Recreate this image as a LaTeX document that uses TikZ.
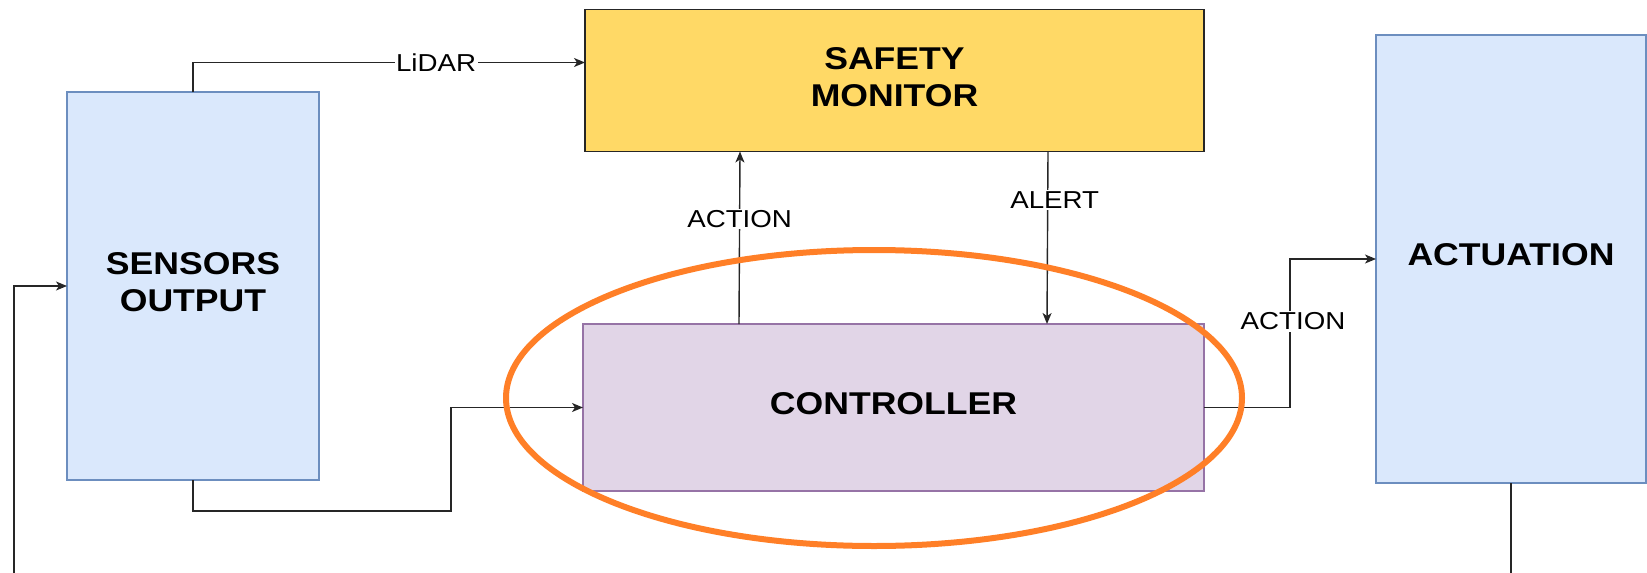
\documentclass[tikz,border=0pt]{standalone}
\usepackage{fontspec}
\setmainfont{Liberation Sans}[FakeStretch=1.13]
\usetikzlibrary{arrows.meta,calc}
\definecolor{blueF}{HTML}{DAE8FC}
\definecolor{blueD}{HTML}{6C8EBF}
\definecolor{yelF}{HTML}{FFD966}
\definecolor{purF}{HTML}{E1D5E7}
\definecolor{purD}{HTML}{9673A6}
\definecolor{orng}{HTML}{FF7F27}
\begin{document}
\begin{tikzpicture}[x=1pt,y=-1pt,
  box/.style={rectangle,inner sep=0pt,outer sep=0pt,line width=1.4pt},
  btext/.style={inner sep=0pt,align=center,font=\fontsize{31.5}{37}\selectfont\bfseries},
  arr/.style={line width=1.4pt,draw=black!85,-{Stealth[length=11pt,width=9pt,inset=3pt]}},
  ln/.style={line width=1.4pt,draw=black!85},
  lab/.style={fill=white,inner sep=1.5pt,font=\fontsize{24.5}{28}\selectfont},
  hilite/.style={draw=orng,line width=6pt}]
\useasboundingbox (0,0) rectangle (1647,573);
\node[box,fill=blueF,draw=blueD,minimum width=252pt,minimum height=388pt] (sens) at (193,286) {};
\node[box,fill=yelF,draw=black!85,minimum width=619pt,minimum height=142pt] (safe) at (894.5,80.5) {};
\node[box,fill=purF,draw=purD,minimum width=621pt,minimum height=167pt] (ctrl) at (893.5,407.5) {};
\node[box,fill=blueF,draw=blueD,minimum width=270pt,minimum height=448pt] (act) at (1511,259) {};
\node[btext] (sensT) at ([yshift=3.5pt]sens.center) {SENSORS\\OUTPUT};
\node[btext] (safeT) at ([yshift=3.5pt]safe.center) {SAFETY\\MONITOR};
\node[btext] (ctrlT) at ([yshift=3.5pt]ctrl.center) {CONTROLLER};
\node[btext] (actT) at ([yshift=4pt]act.center) {ACTUATION};
\coordinate (b1) at (451,511);
\coordinate (b2) at (1290,259);
\coordinate (fb) at (14,573);
\coordinate (ab) at (1511,573);
% connectors
\draw[arr] (sens.north) |- node[lab,pos=0.81]{LiDAR} ([yshift=18pt]safe.west);
\draw[arr] (sens.south) |- (b1) |- (ctrl.west);
\draw[arr] ([xshift=-154.5pt]ctrl.north) -- node[lab,pos=0.61]{ACTION} ([xshift=-154.5pt]safe.south);
\draw[arr] ([xshift=153.5pt]safe.south) -- node[lab,pos=0.28,xshift=7pt]{ALERT} ([xshift=153.5pt]ctrl.north);
\draw[arr] (ctrl.east) -| node[lab,pos=0.79,xshift=3pt]{ACTION} (b2) -- (act.west);
\draw[arr] (fb) |- (sens.west);
\draw[ln] (act.south) -- (ab);
% highlight
\draw[hilite] (874,398) ellipse [x radius=368pt, y radius=148pt];
\end{tikzpicture}
\end{document}
